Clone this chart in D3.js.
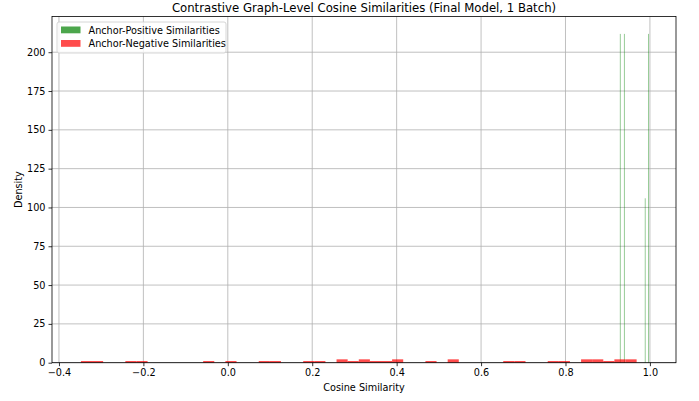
<!DOCTYPE html>
<html>
<head>
<meta charset="utf-8">
<script src="https://cdn.jsdelivr.net/npm/d3@7"></script>
<style>
  body { margin: 0; background: #fff; }
  svg { font-family: "DejaVu Sans", sans-serif; }
</style>
</head>
<body>
<svg id="chart" width="699" height="401"></svg>
<script>
// histogram bins (left edge of each bin, density)
var posBinStart = [0.9289, 0.9385, 0.9880, 0.9962],
    posDensity = [211.8, 211.8, 105.9, 211.8],
    posBinWidth = 0.00137;

var negBinStart = [-0.348, -0.3217, -0.2427, -0.2164, -0.0584, -0.0057, 0.0733, 0.0996,
                   0.1786, 0.2049, 0.2576, 0.2839, 0.3103, 0.3366, 0.3629, 0.3892,
                   0.4682, 0.5209, 0.6525, 0.6789, 0.7579, 0.7842, 0.8369, 0.8632,
                   0.8895, 0.9158, 0.9422],
    negDensity = [1.09, 1.09, 1.09, 1.09, 1.09, 1.09, 1.09, 1.09,
                  1.09, 1.09, 2.17, 1.09, 2.17, 1.09, 1.09, 2.17,
                  1.09, 2.17, 1.09, 1.09, 1.09, 1.09, 2.17, 2.17,
                  1.09, 2.17, 2.17],
    negBinWidth = 0.02633;

var xTicks = [-0.4, -0.2, 0.0, 0.2, 0.4, 0.6, 0.8, 1.0],
    yTicks = [0, 25, 50, 75, 100, 125, 150, 175, 200];

var seriesNames = ["Anchor-Positive Similarities", "Anchor-Negative Similarities"],
    seriesColors = ["rgba(0,128,0,0.7)", "rgba(255,0,0,0.7)"];

var svg = d3.select("#chart"),
    margin = {left: 52, right: 23, top: 16.5, bottom: 38.3},
    width = +svg.attr("width") - margin.left - margin.right,
    height = +svg.attr("height") - margin.top - margin.bottom;

var x = d3.scaleLinear().domain([-0.4165, 1.0618]).range([0, width]),
    y = d3.scaleLinear().domain([0, 223]).range([height, 0]);

var g = svg.append("g").attr("transform", "translate(" + margin.left + "," + margin.top + ")");

// grid
g.append("g").selectAll("line.gx")
    .data(xTicks).enter().append("line")
    .attr("x1", d => x(d)).attr("x2", d => x(d))
    .attr("y1", 0).attr("y2", height)
    .attr("stroke", "#b0b0b0").attr("stroke-width", 0.8);

g.append("g").selectAll("line.gy")
    .data(yTicks).enter().append("line")
    .attr("x1", 0).attr("x2", width)
    .attr("y1", d => y(d)).attr("y2", d => y(d))
    .attr("stroke", "#b0b0b0").attr("stroke-width", 0.8);

// bars
g.append("g").selectAll("rect")
    .data(posBinStart).enter().append("rect")
    .attr("x", d => x(d))
    .attr("width", d => x(d + posBinWidth) - x(d))
    .attr("y", (d, i) => y(posDensity[i]))
    .attr("height", (d, i) => y(0) - y(posDensity[i]))
    .attr("fill", seriesColors[0]);

g.append("g").selectAll("rect")
    .data(negBinStart).enter().append("rect")
    .attr("x", d => x(d))
    .attr("width", d => x(d + negBinWidth) - x(d))
    .attr("y", (d, i) => y(negDensity[i]))
    .attr("height", (d, i) => y(0) - y(negDensity[i]))
    .attr("fill", seriesColors[1]);

// axes
var xAxis = g.append("g")
    .attr("transform", "translate(0," + height + ")")
    .call(d3.axisBottom(x).tickValues(xTicks).tickSize(3.5).tickPadding(3)
      .tickFormat(d => d3.format(".1f")(d).replace("-", "\u2212")));

var yAxis = g.append("g")
    .call(d3.axisLeft(y).tickValues(yTicks).tickSize(3.5).tickPadding(3));

[xAxis, yAxis].forEach(function(a) {
  a.select(".domain").remove();
  a.selectAll("text").attr("font-size", 9.7).attr("fill", "#000")
    .attr("font-family", "DejaVu Sans");
  a.selectAll("line").attr("stroke", "#000").attr("stroke-width", 0.8);
});

// frame
g.append("rect")
    .attr("width", width).attr("height", height)
    .attr("fill", "none").attr("stroke", "#000").attr("stroke-width", 0.8);

// labels
svg.append("text")
    .attr("x", margin.left + width / 2).attr("y", 12)
    .attr("text-anchor", "middle").attr("font-size", 11.7)
    .text("Contrastive Graph-Level Cosine Similarities (Final Model, 1 Batch)");

svg.append("text")
    .attr("x", margin.left + width / 2).attr("y", 391)
    .attr("text-anchor", "middle").attr("font-size", 9.7)
    .text("Cosine Similarity");

svg.append("text")
    .attr("transform", "translate(22," + (margin.top + height / 2) + ") rotate(-90)")
    .attr("text-anchor", "middle").attr("font-size", 9.7)
    .text("Density");

// legend
var legend = g.append("g").attr("transform", "translate(5,5.5)");

legend.append("rect")
    .attr("width", 169).attr("height", 31).attr("rx", 2)
    .attr("fill", "rgba(255,255,255,0.8)").attr("stroke", "#cccccc").attr("stroke-width", 0.8);

var items = legend.selectAll("g.item")
    .data(seriesNames).enter().append("g")
    .attr("transform", (d, i) => "translate(4," + (4.5 + i * 13.5) + ")");

items.append("rect")
    .attr("width", 19.5).attr("height", 6.8)
    .attr("fill", (d, i) => seriesColors[i]);

items.append("text")
    .attr("x", 27.5).attr("y", 7)
    .attr("font-size", 9.7)
    .text(d => d);
</script>
</body>
</html>
